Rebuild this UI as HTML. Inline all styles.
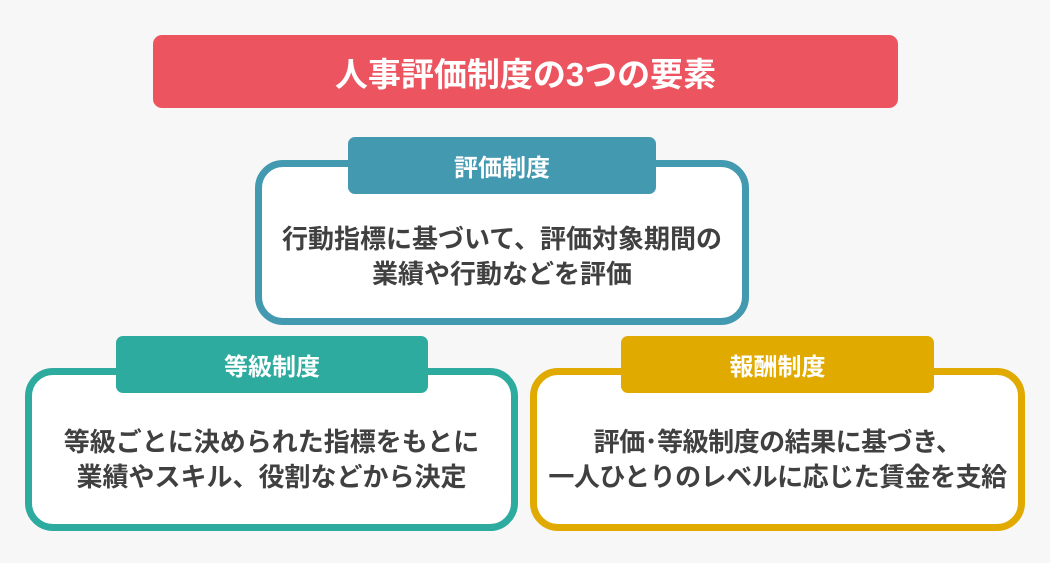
<!DOCTYPE html>
<html><head><meta charset="utf-8"><style>
html,body{margin:0;padding:0}
body{width:1050px;height:563px;background:#f7f7f7;position:relative;overflow:hidden;font-family:"Liberation Sans","Noto Sans CJK JP",sans-serif;font-weight:bold}
.title{position:absolute;left:153px;top:35px;width:745px;height:73px;background:#ec5560;border-radius:9px;color:#fff;font-size:33px;display:flex;align-items:center;justify-content:center}
.box{position:absolute;border:7px solid;border-radius:28px;background:#fff;box-sizing:border-box;display:flex;align-items:center;justify-content:center;text-align:center;color:#404040;font-size:26px;line-height:35px;white-space:nowrap}
.tab{position:absolute;border-radius:7px;color:#fff;font-size:24px;display:flex;align-items:center;justify-content:center}
</style></head><body>
<div class="title">人事評価制度の3つの要素</div>

<div class="box" style="left:255px;top:160px;width:494px;height:165px;border-color:#4399b0;padding-top:28px">行動指標に基づいて、評価対象期間の<br>業績や行動などを評価</div>
<div class="tab" style="left:348px;top:137px;width:308px;height:57px;background:#4399b0">評価制度</div>

<div class="box" style="left:25px;top:368px;width:493px;height:163px;border-color:#2eab9f;padding-top:20px">等級ごとに決められた指標をもとに<br>業績やスキル、役割などから決定</div>
<div class="tab" style="left:116px;top:336px;width:312px;height:57px;background:#2eab9f">等級制度</div>

<div class="box" style="left:530px;top:368px;width:495px;height:163px;border-color:#e0aa00;padding-top:20px;letter-spacing:-0.5px">評価･等級制度の結果に基づき、<br>一人ひとりのレベルに応じた賃金を支給</div>
<div class="tab" style="left:621px;top:336px;width:313px;height:57px;background:#e0aa00">報酬制度</div>
</body></html>
